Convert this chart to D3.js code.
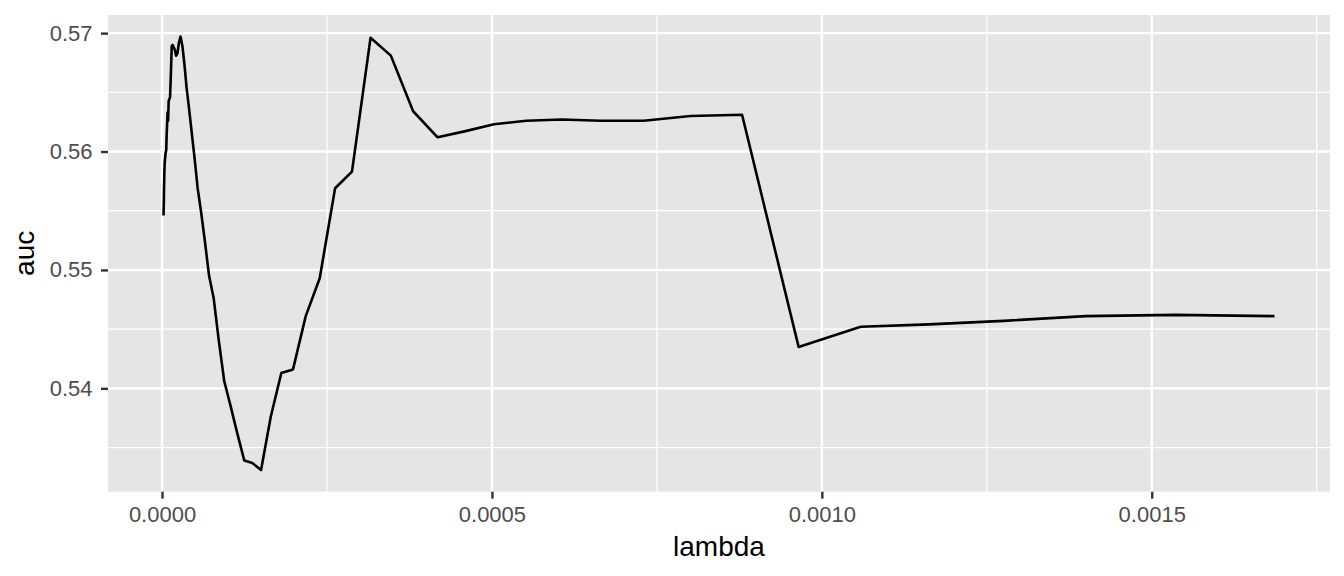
<!DOCTYPE html>
<html>
<head>
<meta charset="utf-8">
<script src="https://cdn.jsdelivr.net/npm/d3@7"></script>
<style>
  body { margin: 0; background: #ffffff; }
  text { font-family: "Liberation Sans", Arial, Helvetica, sans-serif; }
</style>
</head>
<body>
<div id="chart"></div>
<script>
// lambda path (ascending) and the auc
var lambda = [
  0.0000023, 0.0000025, 0.0000028, 0.0000030, 0.0000033, 0.0000036, 0.0000040, 0.0000044,
  0.0000048, 0.0000053, 0.0000058, 0.0000064, 0.0000070, 0.0000077, 0.0000084, 0.0000092,
  0.0000101, 0.0000111, 0.0000122, 0.0000134, 0.0000147, 0.0000161, 0.0000177, 0.0000194,
  0.0000213, 0.0000234, 0.0000256, 0.0000281, 0.0000309, 0.0000339, 0.0000372, 0.0000408,
  0.0000448, 0.0000492, 0.0000540, 0.0000592, 0.0000650, 0.0000713, 0.0000783, 0.0000859,
  0.0000943, 0.0001035, 0.0001136, 0.0001247, 0.0001368, 0.0001501, 0.0001648, 0.0001808,
  0.0001985, 0.0002178, 0.0002390, 0.0002623, 0.0002879, 0.0003160, 0.0003468, 0.0003806,
  0.0004177, 0.0004584, 0.0005031, 0.0005521, 0.0006059, 0.0006650, 0.0007299, 0.0008010,
  0.0008791, 0.0009648, 0.0010589, 0.0011621, 0.0012754, 0.0013997, 0.0015362, 0.0016860
];

var auc = [
  0.5546, 0.5552, 0.5559, 0.5568, 0.5576, 0.5584, 0.5590, 0.5593,
  0.5595, 0.5598, 0.5600, 0.5601, 0.5614, 0.5623, 0.5633, 0.5626,
  0.5643, 0.5644, 0.5646, 0.5665, 0.5689, 0.5690, 0.5688, 0.5686,
  0.5681, 0.5683, 0.5692, 0.5697, 0.5689, 0.5674, 0.5654, 0.5637,
  0.5617, 0.5595, 0.5569, 0.5549, 0.5524, 0.5495, 0.5476, 0.5441,
  0.5406, 0.5386, 0.5363, 0.5339, 0.5337, 0.5331, 0.5376, 0.5413,
  0.5416, 0.5461, 0.5493, 0.5569, 0.5583, 0.5696, 0.5681, 0.5634,
  0.5612, 0.5617, 0.5623, 0.5626, 0.5627, 0.5626, 0.5626, 0.5630,
  0.5631, 0.5435, 0.5452, 0.5454, 0.5457, 0.5461, 0.5462, 0.5461
];

var xTicks = [0, 0.0005, 0.001, 0.0015];
var xMinor = [0.00025, 0.00075, 0.00125, 0.00175];
var yTicks = [0.54, 0.55, 0.56, 0.57];
var yMinor = [0.535, 0.545, 0.555, 0.565];

var svgWidth = 1344;
var svgHeight = 576;

var panel = { left: 108, right: 1330, top: 15, bottom: 491.7 };

var svg = d3.select("#chart")
  .append("svg")
  .attr("width", svgWidth)
  .attr("height", svgHeight);

var data = lambda.map(function (d, i) {
  return { lambda: d, auc: auc[i] };
});

// ggplot style 5% expansion
function expand(ext) {
  var pad = (ext[1] - ext[0]) * 0.05;
  return [ext[0] - pad, ext[1] + pad];
}

var xScale = d3.scaleLinear()
  .domain(expand(d3.extent(lambda)))
  .range([panel.left, panel.right]);

var yScale = d3.scaleLinear()
  .domain(expand(d3.extent(auc)))
  .range([panel.bottom, panel.top]);

svg.append("rect")
  .attr("x", panel.left)
  .attr("y", panel.top)
  .attr("width", panel.right - panel.left)
  .attr("height", panel.bottom - panel.top)
  .attr("fill", "#E5E5E5");

var grid = svg.append("g");

grid.selectAll(".ymin")
  .data(yMinor)
  .enter()
  .append("line")
  .attr("x1", panel.left)
  .attr("x2", panel.right)
  .attr("y1", d => yScale(d))
  .attr("y2", d => yScale(d))
  .attr("stroke", "#ffffff")
  .attr("stroke-width", 1.2);

grid.selectAll(".xmin")
  .data(xMinor)
  .enter()
  .append("line")
  .attr("y1", panel.top)
  .attr("y2", panel.bottom)
  .attr("x1", d => xScale(d))
  .attr("x2", d => xScale(d))
  .attr("stroke", "#ffffff")
  .attr("stroke-width", 1.2);

grid.selectAll(".ymaj")
  .data(yTicks)
  .enter()
  .append("line")
  .attr("x1", panel.left)
  .attr("x2", panel.right)
  .attr("y1", d => yScale(d))
  .attr("y2", d => yScale(d))
  .attr("stroke", "#ffffff")
  .attr("stroke-width", 2.4);

grid.selectAll(".xmaj")
  .data(xTicks)
  .enter()
  .append("line")
  .attr("y1", panel.top)
  .attr("y2", panel.bottom)
  .attr("x1", d => xScale(d))
  .attr("x2", d => xScale(d))
  .attr("stroke", "#ffffff")
  .attr("stroke-width", 2.4);

var line = d3.line()
  .x(d => xScale(d.lambda))
  .y(d => yScale(d.auc));

svg.append("path")
  .datum(data)
  .attr("d", line)
  .attr("fill", "none")
  .attr("stroke", "#000000")
  .attr("stroke-width", 2.6)
  .attr("stroke-linejoin", "round");

var bottomAxis = d3.axisBottom(xScale)
  .tickValues(xTicks)
  .tickFormat(d3.format(".4f"))
  .tickSize(7)
  .tickPadding(7.7);

var leftAxis = d3.axisLeft(yScale)
  .tickValues(yTicks)
  .tickFormat(d3.format(".2f"))
  .tickSize(7)
  .tickPadding(8.5);

var xAxis = svg.append("g")
  .attr("transform", `translate(0, ${panel.bottom})`)
  .call(bottomAxis);

var yAxis = svg.append("g")
  .attr("transform", `translate(${panel.left}, 0)`)
  .call(leftAxis);

[xAxis, yAxis].forEach(function (ax) {
  ax.select(".domain").remove();
  ax.selectAll(".tick line")
    .attr("stroke", "#333333")
    .attr("stroke-width", 2.4);
  ax.selectAll(".tick text")
    .attr("fill", "#4D4D4D")
    .style("font-size", "22px")
    .style("font-family", "'Liberation Sans', Arial, sans-serif");
});

svg.append("text")
  .attr("x", (panel.left + panel.right) / 2)
  .attr("y", 556)
  .attr("text-anchor", "middle")
  .style("font-size", "28px")
  .attr("fill", "#000000")
  .text("lambda");

svg.append("text")
  .attr("transform", `translate(33.5, ${(panel.top + panel.bottom) / 2}) rotate(-90)`)
  .attr("text-anchor", "middle")
  .style("font-size", "28px")
  .attr("fill", "#000000")
  .text("auc");
</script>
</body>
</html>
